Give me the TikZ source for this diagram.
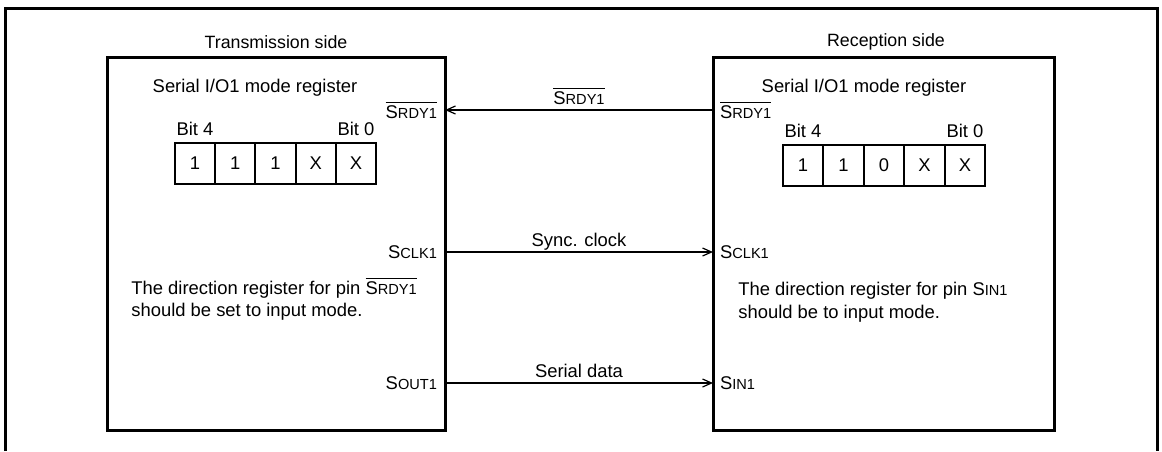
\documentclass[tikz,border=0pt]{standalone}
\usepackage{fontspec}
\setmainfont{Liberation Sans}
\usepackage{tikz}
\usetikzlibrary{positioning, arrows.meta}

% pin names: first letter full size, rest smaller
\newcommand{\pinname}[2]{#1{\fontsize{7.3}{8}\selectfont #2}}
\newcommand{\pinbar}[2]{$\overline{\hbox{\pinname{#1}{#2}}}$}

\begin{document}
\begin{tikzpicture}[x=0.5pt, y=-0.5pt, font=\fontsize{9.2}{11.3}\selectfont,
    side/.style={draw, line width=1.5pt, minimum width=169pt, minimum height=186.5pt, inner sep=0pt},
    cell/.style={draw, line width=1pt, minimum width=20.2pt, minimum height=20.5pt, inner sep=0pt},
    sig/.style={-{Straight Barb[length=4.5pt, width=4pt]}, line width=0.6pt},
    siglbl/.style={anchor=base, yshift=2.8pt, inner sep=0pt},
    note/.style={align=left, anchor=north west, inner sep=0pt}]
  \useasboundingbox (0,0) rectangle (1162,451);

  % Frame
  \draw[line width=1.5pt] (5,451) -- (5,8) -- (1157,8) -- (1157,451);

  % Transmission side
  \node[side] (tx) at (276,243.5) {};
  \node[font=\fontsize{8.9}{10}\selectfont] (txtitle) at (276,42) {Transmission side};
  \node (txreg) at (255,88) {Serial I/O1 mode register};
  \foreach \i/\val in {0/1, 1/1, 2/1, 3/X, 4/X} {
    \node[cell] (tb\i) at (195+\i*40.25,163.5) {\val};
  }
  \node[above=-0.5pt of tb0] (tbhi) {Bit 4};
  \node[above=-0.5pt of tb4] (tblo) {Bit 0};
  \node[note] (txnote) at (131,277) {The direction register for pin \pinbar{S}{RDY1}\\should be set to input mode.};

  % Reception side
  \node[side, minimum width=170.5pt] (rx) at (883.5,243.5) {};
  \node[font=\fontsize{8.9}{10}\selectfont] (rxtitle) at (886,42) {Reception side};
  \node (rxreg) at (864,88) {Serial I/O1 mode register};
  \foreach \i/\val in {0/1, 1/1, 2/0, 3/X, 4/X} {
    \node[cell] (rb\i) at (803+\i*40.5,165) {\val};
  }
  \node[above=-0.5pt of rb0] (rbhi) {Bit 4};
  \node[above=-0.5pt of rb4] (rblo) {Bit 0};
  \node[note] (rxnote) at (738,282) {The direction register for pin \pinname{S}{IN1}\\should be to input mode.};

  % Pins
  \coordinate (txrdy) at (445,110);
  \coordinate (txclk) at (445,252);
  \coordinate (txout) at (445,383);
  \coordinate (rxrdy) at (713,110);
  \coordinate (rxclk) at (713,252);
  \coordinate (rxin) at (713,383);
  \node[left=0.5pt] (txrdyl) at (txrdy) {\pinbar{S}{RDY1}};
  \node[left=0.5pt] (txclkl) at (txclk) {\pinname{S}{CLK1}};
  \node[left=0.5pt] (txoutl) at (txout) {\pinname{S}{OUT1}};
  \node[right=0pt] (rxrdyl) at (rxrdy) {\pinbar{S}{RDY1}};
  \node[right=0pt] (rxclkl) at (rxclk) {\pinname{S}{CLK1}};
  \node[right=0pt] (rxinl) at (rxin) {\pinname{S}{IN1}};

  % Signals
  \draw[sig] (rxrdy) -- node[siglbl] (rdysig) {\pinbar{S}{RDY1}} (txrdy);
  \draw[sig] (txclk) -- node[siglbl] (clksig) {Sync. clock} (rxclk);
  \draw[sig] (txout) -- node[siglbl] (datsig) {Serial data} (rxin);
\end{tikzpicture}
\end{document}
